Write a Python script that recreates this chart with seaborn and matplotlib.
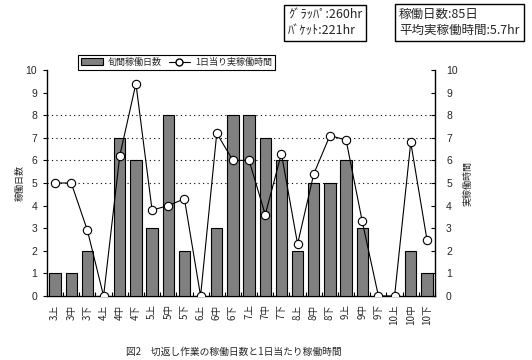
import numpy as np
import pandas as pd
import matplotlib
matplotlib.use("Agg")
import matplotlib.pyplot as plt
import seaborn as sns
from matplotlib.patches import Patch
from matplotlib.lines import Line2D

categories = ["3上", "3中", "3下", "4上", "4中", "4下", "5上", "5中", "5下",
              "6上", "6中", "6下", "7上", "7中", "7下", "8上", "8中", "8下",
              "9上", "9中", "9下", "10上", "10中", "10下"]
work_days = [1, 1, 2, 0, 7, 6, 3, 8, 2, 0, 3, 8, 8, 7, 6, 2, 5, 5, 6, 3, 0, 0, 2, 1]
hours_per_day = [5.0, 5.0, 2.9, 0.0, 6.2, 9.4, 3.8, 4.0, 4.3, 0.0, 7.2, 6.0,
                 6.0, 3.6, 6.3, 2.3, 5.4, 7.1, 6.9, 3.3, 0.0, 0.0, 6.8, 2.5]
yticks = list(range(0, 11))
grid_levels = [5, 6, 7, 8]

sns.set_theme(style="white")
plt.rcParams["font.family"] = ["Noto Sans CJK JP", "DejaVu Sans"]

df = pd.DataFrame({"cat": categories, "days": work_days, "hours": hours_per_day,
                   "pos": np.arange(len(categories))})

fig = plt.figure(figsize=(5.32, 3.6), dpi=100)
ax = fig.add_axes([47/532, 1-296/360, (435-47)/532, (296-70)/360])

sns.barplot(data=df, x="cat", y="days", color="#808080", saturation=1,
            edgecolor="black", linewidth=0.8, width=0.7, ax=ax, zorder=3)
ax.set_xlim(-0.5, len(categories) - 0.5)
ax.set_ylim(0, 10)
ax.set_yticks(yticks)
ax.hlines(grid_levels, -0.5, len(categories) - 0.5, colors="black",
          linestyles=(0, (1, 3)), linewidth=0.8, zorder=1)

ax2 = ax.twinx()
sns.lineplot(data=df, x="pos", y="hours", color="black", linewidth=0.8,
             marker="o", markersize=6, markerfacecolor="white",
             markeredgecolor="black", markeredgewidth=0.8, ax=ax2, zorder=4)
ax2.set_ylim(0, 10)
ax2.set_yticks(yticks)
ax2.set_xlim(-0.5, len(categories) - 0.5)

for a in (ax, ax2):
    a.spines["top"].set_visible(False)
    for s in ("left", "right", "bottom"):
        a.spines[s].set_color("black")
        a.spines[s].set_linewidth(1.0)
ax.spines["right"].set_visible(False)
ax2.spines["left"].set_visible(False)
ax2.spines["bottom"].set_visible(False)

ax.set_xlabel("")
ax.set_ylabel("稼働日数", fontsize=6.5, labelpad=1)
ax2.set_ylabel("実稼働時間", fontsize=6.5, labelpad=4)

ax.tick_params(axis="y", direction="out", length=3, width=0.8, color="black",
               labelsize=7.5, pad=4, left=True)
ax2.tick_params(axis="y", direction="in", length=3, width=0.8, color="black",
                labelsize=7.5, pad=8, right=True)
ax.tick_params(axis="x", length=0, labelsize=7, pad=6, bottom=True)
ax.set_xticks(np.arange(len(categories)))
ax.set_xticklabels(categories, rotation=90)
ax.set_xticks(np.arange(len(categories) + 1) - 0.5, minor=True)
ax.tick_params(axis="x", which="minor", direction="in", length=3, width=0.8,
               color="black", bottom=True)
for t in ax.get_yticklabels() + ax2.get_yticklabels():
    t.set_family(["Liberation Sans", "DejaVu Sans"])

handles = [Patch(facecolor="#808080", edgecolor="black", linewidth=0.8),
           Line2D([0], [0], color="black", linewidth=0.8, marker="o",
                  markersize=5, markerfacecolor="white", markeredgecolor="black")]
leg = fig.legend(handles, ["旬間稼働日数", "1日当り実稼働時間"], ncol=2,
                 loc="center", bbox_to_anchor=(176.5/532, 1-62.5/360),
                 fontsize=6.5, frameon=True, fancybox=False, framealpha=1,
                 edgecolor="black", borderpad=0.3, handlelength=2.4,
                 handletextpad=0.5, columnspacing=0.8, handleheight=0.8)
leg.get_frame().set_linewidth(0.8)

fig.text(288/532, 1-22.5/360, "ｸﾞﾗｯﾊﾟ:260hr\nﾊﾞｹｯﾄ:221hr", fontsize=9,
         ha="left", va="center", linespacing=1.25,
         bbox=dict(boxstyle="square,pad=0.3", fc="white", ec="black", lw=1))
fig.text(399/532, 1-22.5/360, "稼働日数:85日\n平均実稼働時間:5.7hr", fontsize=9,
         ha="left", va="center", linespacing=1.25,
         bbox=dict(boxstyle="square,pad=0.35", fc="white", ec="black", lw=1))

fig.text(234/532, 1-352/360, "図2　切返し作業の稼働日数と1日当たり稼働時間",
         fontsize=7, ha="center", va="center")

fig.savefig("out.png", dpi=100, facecolor="white")
